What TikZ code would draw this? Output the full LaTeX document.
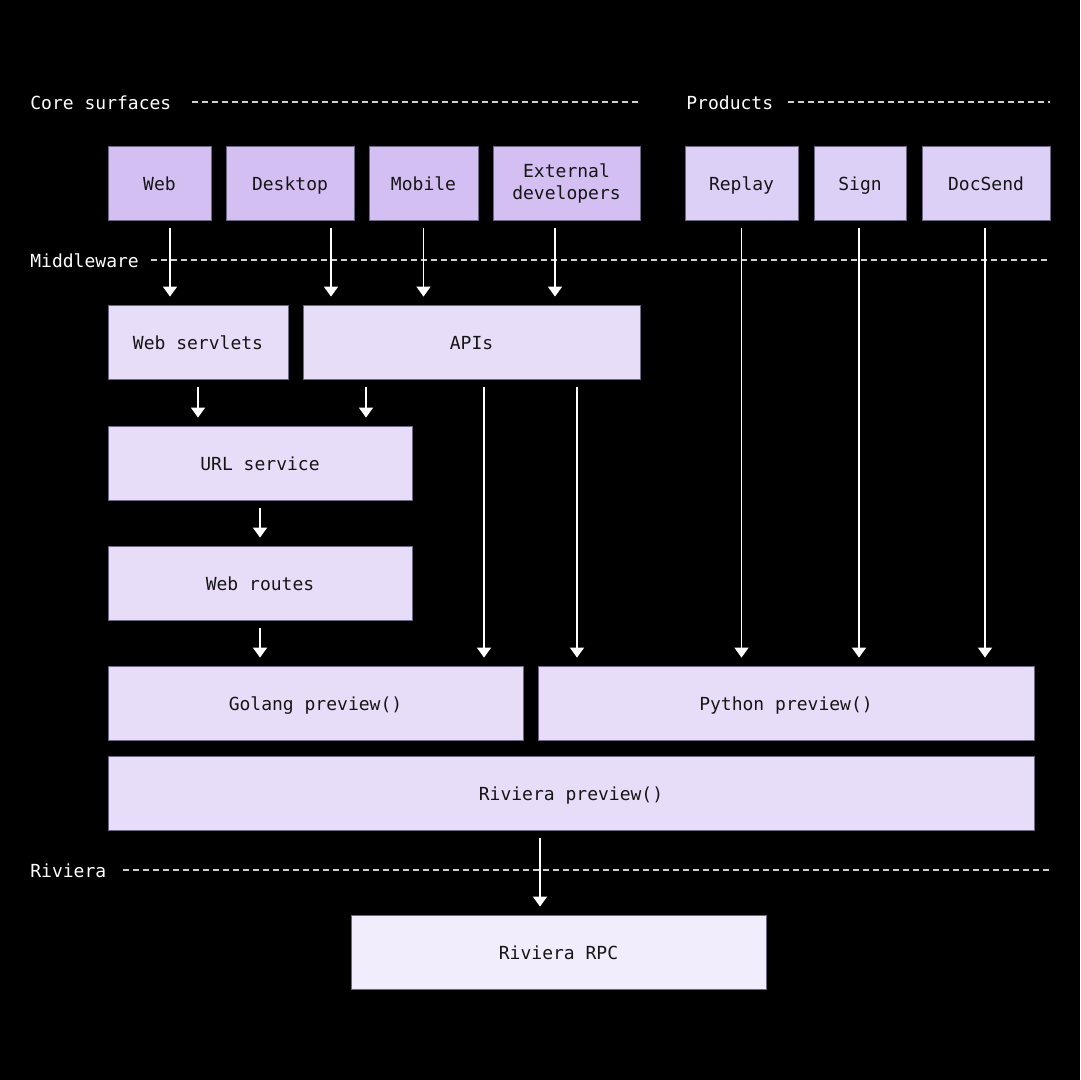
\documentclass[tikz,border=0pt]{standalone}
\usepackage{fontspec}
\setmonofont{DejaVu Sans Mono}
\usetikzlibrary{arrows.meta}
\definecolor{coreC}{HTML}{D4BFF3}
\definecolor{prodC}{HTML}{DDD0F6}
\definecolor{midC}{HTML}{E8DDF8}
\definecolor{rpcC}{HTML}{F1EDFC}
\definecolor{edgeC}{HTML}{6F6585}
\definecolor{dashC}{HTML}{D0D0D0}
\definecolor{txtC}{HTML}{161616}
\tikzset{
  boxbase/.style={draw=edgeC, line width=0.4pt, inner sep=0pt, align=center,
    text=txtC, font=\ttfamily\fontsize{9}{12}\selectfont, minimum height=37pt},
  box/.style={boxbase, text height=8pt, text depth=0.4pt},
  corebox/.style={box, fill=coreC},
  corebox2/.style={boxbase, fill=coreC},
  prodbox/.style={box, fill=prodC},
  midbox/.style={box, fill=midC},
  rpcbox/.style={box, fill=rpcC},
  lane/.style={anchor=west, inner sep=0pt, text=white, text height=8pt, text depth=0.4pt,
    font=\ttfamily\fontsize{9}{12}\selectfont},
  lanedash/.style={draw=dashC, line width=0.6pt, dash pattern=on 3pt off 2pt},
  arr/.style={draw=white, line width=0.75pt, -{Triangle[width=7pt,length=5pt]}, shorten <=4pt, shorten >=4pt}
}
\begin{document}
\begin{tikzpicture}[x=0.5pt,y=-0.5pt]
\fill[black] (0,0) rectangle (1080,1080);
\useasboundingbox (0,0) rectangle (1080,1080);

% lane labels
\node[lane] (lcore) at (30,102) {Core surfaces};
\coordinate (lcoreE) at (640,102);
\draw[lanedash] ([xshift=10pt]lcore.east) -- (lcoreE);
\node[lane] (lprod) at (686,102) {Products};
\coordinate (lprodE) at (1050,102);
\draw[lanedash] ([xshift=7pt]lprod.east) -- (lprodE);
\node[lane] (lmid) at (30,260) {Middleware};
\coordinate (lmidE) at (1050,260);
\draw[lanedash] ([xshift=6pt]lmid.east) -- (lmidE);
\node[lane] (lriv) at (30,870) {Riviera};
\coordinate (lrivE) at (1050,870);
\draw[lanedash] ([xshift=8pt]lriv.east) -- (lrivE);

% top row
\node[corebox, minimum width=51.5pt] (web) at (159.5,183) {Web};
\node[corebox, minimum width=64pt] (desk) at (290,183) {Desktop};
\node[corebox, minimum width=54.5pt] (mob) at (423.5,183) {Mobile};
\node[corebox2, minimum width=73.5pt] (ext) at (566.5,183) {External\\[-1pt]developers};
\node[prodbox, minimum width=56.5pt] (replay) at (741.5,183) {Replay};
\node[prodbox, minimum width=46pt] (sign) at (860,183) {Sign};
\node[prodbox, minimum width=64pt] (docsend) at (986,183) {DocSend};

% middleware
\node[midbox, minimum width=90pt] (ws) at (198,342) {Web servlets};
\node[midbox, minimum width=168.5pt] (apis) at (471.5,342) {APIs};
\node[midbox, minimum width=152pt] (url) at (260,463) {URL service};
\node[midbox, minimum width=152pt] (routes) at (260,583) {Web routes};
\node[midbox, minimum width=207.5pt] (golang) at (315.5,703) {Golang preview()};
\node[midbox, minimum width=248pt] (python) at (786,703) {Python preview()};
\node[midbox, minimum width=463pt] (rivp) at (571,793) {Riviera preview()};
\node[rpcbox, minimum width=207.5pt] (rpc) at (558.5,952) {Riviera RPC};

% arrows: core surfaces to middleware
\draw[arr] ([xshift=5.25pt]web.south) -- ([xshift=5.25pt]web.south |- ws.north);
\draw[arr] ([xshift=20.5pt]desk.south) -- ([xshift=20.5pt]desk.south |- apis.north);
\draw[arr] (mob.south) -- (mob.south |- apis.north);
\draw[arr] ([xshift=-5.75pt]ext.south) -- ([xshift=-5.75pt]ext.south |- apis.north);

% servlets / apis to url service
\draw[arr] (ws.south) -- (ws.south |- url.north);
\draw[arr] ([xshift=-52.75pt]apis.south) -- ([xshift=-52.75pt]apis.south |- url.north);
\draw[arr] (url.south) -- (routes.north);
\draw[arr] (routes.south) -- (routes.south |- golang.north);

% apis long arrows
\draw[arr] ([xshift=6.25pt]apis.south) -- ([xshift=6.25pt]apis.south |- golang.north);
\draw[arr] ([xshift=52.75pt]apis.south) -- ([xshift=52.75pt]apis.south |- python.north);

% products to python
\draw[arr] (replay.south) -- (replay.south |- python.north);
\draw[arr] ([xshift=-0.5pt]sign.south) -- ([xshift=-0.5pt]sign.south |- python.north);
\draw[arr] ([xshift=-0.5pt]docsend.south) -- ([xshift=-0.5pt]docsend.south |- python.north);

% riviera
\draw[arr] ([xshift=-15.5pt]rivp.south) -- ([xshift=-15.5pt]rivp.south |- rpc.north);
\end{tikzpicture}
\end{document}
